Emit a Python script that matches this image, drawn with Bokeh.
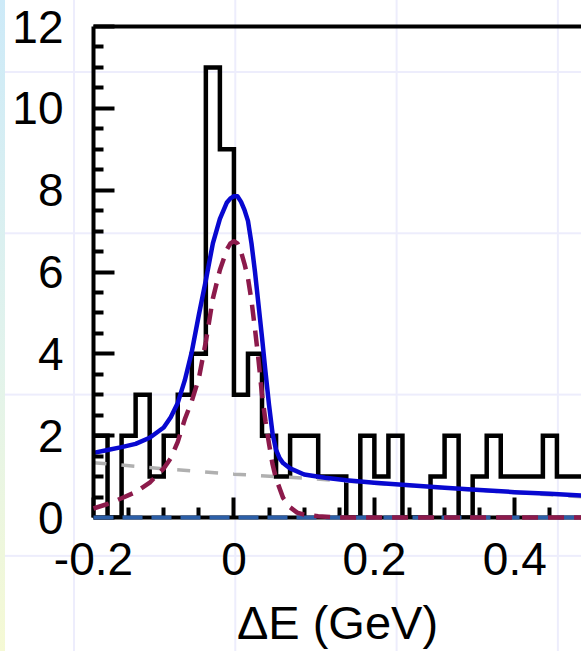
from bokeh.plotting import figure
from bokeh.models import FixedTicker, LinearAxis, Range1d
from bokeh.embed import file_html
from bokeh.resources import INLINE

# ---- data ----
bin_start = -0.2
bin_width = 0.02
counts = [2, 0, 2, 3, 1, 2, 3, 4, 11, 9, 3, 4, 2, 1, 2, 2, 1, 1, 0, 2, 1, 2,
          0, 0, 1, 2, 0, 1, 2, 1, 1, 1, 2, 1, 1]

total_x = [-0.2, -0.18, -0.16, -0.14, -0.12, -0.10, -0.09, -0.08, -0.07, -0.06,
           -0.05, -0.04, -0.03, -0.02, -0.01, -0.005, 0.0, 0.005, 0.01, 0.015,
           0.02, 0.025, 0.03, 0.035, 0.04, 0.045, 0.05, 0.055, 0.06, 0.065,
           0.07, 0.08, 0.10, 0.13, 0.16, 0.20, 0.25, 0.30, 0.35, 0.40,
           0.45, 0.50]
total_y = [1.58, 1.65, 1.72, 1.80, 1.95, 2.20, 2.45, 2.80, 3.35, 4.05,
           4.95, 5.80, 6.70, 7.30, 7.70, 7.80, 7.85, 7.85, 7.72, 7.52,
           7.25, 6.70, 6.00, 5.20, 4.40, 3.55, 2.75, 2.05, 1.65, 1.45,
           1.33, 1.20, 1.05, 0.97, 0.91, 0.85, 0.79, 0.73, 0.67, 0.62,
           0.58, 0.53]

signal_x = [-0.2, -0.18, -0.16, -0.14, -0.12, -0.10, -0.09, -0.08, -0.07, -0.06,
            -0.05, -0.04, -0.03, -0.02, -0.01, -0.005, 0.0, 0.005, 0.01, 0.015,
            0.02, 0.025, 0.03, 0.035, 0.04, 0.045, 0.05, 0.055, 0.06, 0.07,
            0.08, 0.09, 0.10, 0.12, 0.15, 0.50]
signal_y = [0.22, 0.33, 0.47, 0.62, 0.85, 1.20, 1.45, 1.85, 2.40, 2.85,
            3.40, 4.30, 5.35, 6.05, 6.55, 6.70, 6.75, 6.70, 6.50, 6.20,
            5.85, 5.30, 4.60, 3.85, 3.00, 2.35, 1.80, 1.30, 0.95, 0.48,
            0.25, 0.12, 0.07, 0.03, 0.0, 0.0]

bkg_x = [-0.2, -0.1, 0.0, 0.1, 0.2, 0.3, 0.4, 0.5]
bkg_y = [1.34, 1.19, 1.06, 0.96, 0.84, 0.72, 0.61, 0.50]

peaking_x = [-0.2, 0.5]
peaking_y = [0.0, 0.0]

x_ticks = [-0.2, 0.0, 0.2, 0.4]
x_tick_labels = {-0.2: "-0.2", 0.0: "0", 0.2: "0.2", 0.4: "0.4"}
x_minor = [-0.15, -0.1, -0.05, 0.05, 0.1, 0.15, 0.25, 0.3, 0.35, 0.45]
y_ticks = [0, 2, 4, 6, 8, 10, 12]
y_minor = [0.5, 1, 1.5, 2.5, 3, 3.5, 4.5, 5, 5.5, 6.5, 7, 7.5, 8.5, 9, 9.5,
           10.5, 11, 11.5]

FONT = "Liberation Sans"

p = figure(width=581, height=651,
           x_range=Range1d(-0.2, 0.495), y_range=Range1d(0, 12),
           output_backend="svg", toolbar_location=None,
           min_border_left=93, min_border_right=0,
           min_border_top=26, min_border_bottom=131)

p.background_fill_alpha = 0
p.border_fill_alpha = 0
p.outline_line_color = None
p.xgrid.visible = False
p.ygrid.visible = False
p.styles = {
    "background-color": "#ffffff",
    "background-image": (
        "linear-gradient(to bottom, #cdeaf8, #e2f3ec 55%, #f5f9d4),"
        "linear-gradient(to right, #ededfc 0px, #ededfc 2px, transparent 2px),"
        "linear-gradient(to bottom, #ededfc 0px, #ededfc 2px, transparent 2px)"
    ),
    "background-size": "5px 100%, 161.3px 100%, 100% 161.3px",
    "background-position": "0 0, 73px 0, 0 71px",
    "background-repeat": "no-repeat, repeat-x, repeat-y",
}

# histogram as step outline
edges = [bin_start + i * bin_width for i in range(len(counts) + 1)]
step_y = counts + [counts[-1]]
p.step(edges, step_y, mode="after", line_color="black", line_width=4.5,
       line_join="miter")

# background (gray dashed)
p.line(bkg_x, bkg_y, line_color="#b0b0b0", line_width=3.5, line_dash="13 15")
# total fit (blue)
p.line(total_x, total_y, line_color="#0808d0", line_width=4.5,
       line_join="round")
# zero component (blue dashed) over the axis line
zr = p.line(peaking_x, peaking_y, line_color="#2c5fa8", line_width=4,
            line_dash="20 9")
zr.level = "overlay"
# signal (maroon dashed)
sr = p.line(signal_x, signal_y, line_color="#8c1a4b", line_width=4.5,
            line_dash="16 10", line_join="round")
sr.level = "overlay"

# axes
xa = p.xaxis[0]
xa.ticker = FixedTicker(ticks=x_ticks, minor_ticks=x_minor)
xa.major_label_overrides = x_tick_labels
xa.axis_line_width = 4
xa.axis_line_color = "black"
xa.major_tick_in = 20
xa.major_tick_out = 0
xa.minor_tick_in = 10
xa.minor_tick_out = 0
xa.major_tick_line_width = 4
xa.minor_tick_line_width = 4
xa.major_label_text_font = FONT
xa.major_label_text_font_size = "46px"
xa.major_label_text_color = "black"
xa.major_label_standoff = 25
xa.axis_label = "ΔE (GeV)"
xa.axis_label_text_font = FONT
xa.axis_label_text_font_size = "47px"
xa.axis_label_text_font_style = "normal"
xa.axis_label_text_color = "black"
xa.axis_label_standoff = 18

ya = p.yaxis[0]
ya.ticker = FixedTicker(ticks=y_ticks, minor_ticks=y_minor)
ya.axis_line_width = 4
ya.major_tick_in = 21
ya.major_tick_out = 0
ya.minor_tick_in = 10
ya.minor_tick_out = 0
ya.major_tick_line_width = 4
ya.minor_tick_line_width = 4
ya.major_label_text_font = FONT
ya.major_label_text_font_size = "46px"
ya.major_label_text_color = "black"
ya.major_label_standoff = 30

top = LinearAxis(ticker=FixedTicker(ticks=[]), major_label_text_font_size="0px",
                 axis_line_width=4, axis_line_color="black",
                 major_tick_line_color=None, minor_tick_line_color=None)
p.add_layout(top, "above")

open("out.html", "w").write(file_html(p, INLINE))
